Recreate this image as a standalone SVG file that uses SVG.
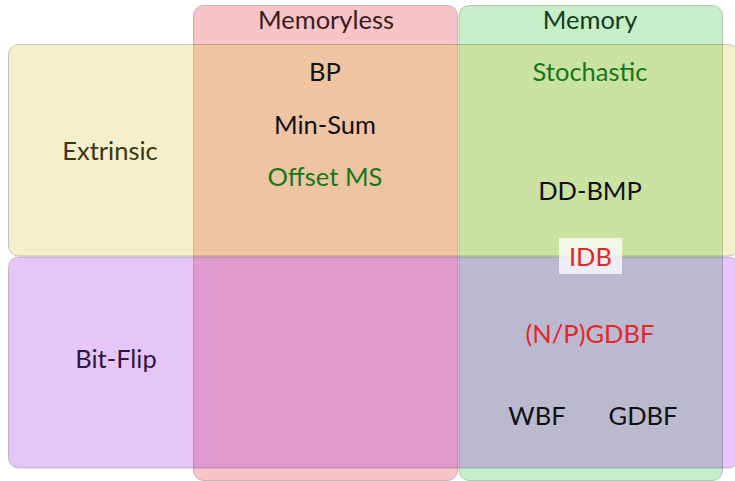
<svg xmlns="http://www.w3.org/2000/svg" width="735" height="481" viewBox="0 0 735 481">
<style>
.box{stroke:#000;stroke-opacity:0.2;stroke-width:1}
.col{fill-opacity:0.25}
.row{fill-opacity:0.25}
text{font-family:Lato,"Open Sans","Liberation Sans",sans-serif;font-size:25.5px;text-anchor:middle}
.k{fill:#111}
.g{fill:#16761a}
.r{fill:#e4262b}
</style>
<rect width="735" height="481" fill="#fff"/>
<g id="memoryless">
<rect class="box col" x="193.5" y="5.5" width="264" height="475" rx="10" fill="#df1723"/>
<text x="326" y="29" fill="#3c1b1d">Memoryless</text>
</g>
<g id="memory">
<rect class="box col" x="459" y="5.5" width="263.5" height="475" rx="10" fill="#1bbb1f"/>
<text x="590" y="29" fill="#173a1a">Memory</text>
</g>
<g id="extrinsic">
<rect class="box row" x="8.5" y="44.5" width="730" height="211.5" rx="10" fill="#d7c333"/>
<text x="110" y="160" fill="#3b3512">Extrinsic</text>
</g>
<g id="bitflip">
<rect class="box row" x="8.5" y="257" width="730" height="211" rx="10" fill="#9b1be7"/>
<text x="116" y="368" fill="#2e1840">Bit-Flip</text>
</g>
<g id="bp"><text class="k" x="325" y="81">BP</text></g>
<g id="minsum"><text class="k" x="325" y="134">Min-Sum</text></g>
<g id="offsetms"><text class="g" x="325" y="186">Offset MS</text></g>
<g id="stochastic"><text class="g" x="590" y="81">Stochastic</text></g>
<g id="ddbmp"><text class="k" x="590" y="200">DD-BMP</text></g>
<g id="idb">
<rect x="559" y="238" width="63" height="36" fill="#fff" fill-opacity="0.75"/>
<text class="r" x="590.5" y="266">IDB</text>
</g>
<g id="npgdbf"><text class="r" x="590" y="343">(N/P)GDBF</text></g>
<g id="wbf"><text class="k" x="537" y="425">WBF</text></g>
<g id="gdbf"><text class="k" x="643" y="425">GDBF</text></g>
<g id="connectors"></g>
</svg>
